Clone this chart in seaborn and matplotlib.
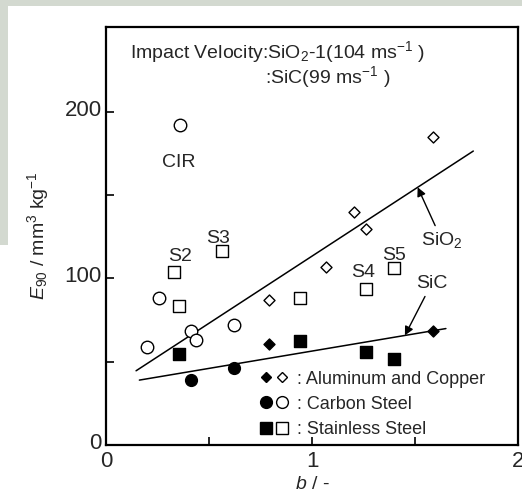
import numpy as np
import pandas as pd
import matplotlib
matplotlib.use("Agg")
import matplotlib.pyplot as plt
import matplotlib.transforms as mtransforms
from matplotlib.patches import Rectangle
from matplotlib.legend_handler import HandlerTuple
from matplotlib.lines import Line2D
import seaborn as sns

# ---- data -------------------------------------------------------------
# Aluminum and Copper
alcu_sio2_b = [0.793, 1.068, 1.205, 1.262, 1.589]
alcu_sio2_e = [87.0, 106.7, 139.8, 129.7, 185.0]
alcu_sic_b = [0.793, 1.589]
alcu_sic_e = [60.5, 68.7]
# Carbon Steel
cs_sio2_b = [0.200, 0.259, 0.359, 0.413, 0.437, 0.623]
cs_sio2_e = [59.0, 88.0, 192.0, 68.5, 63.0, 72.0]
cs_sic_b = [0.413, 0.623]
cs_sic_e = [39.0, 46.0]
# Stainless Steel
ss_sio2_b = [0.330, 0.354, 0.561, 0.942, 1.260, 1.398]
ss_sio2_e = [104.0, 83.5, 116.5, 88.0, 93.5, 106.0]
ss_sic_b = [0.354, 0.942, 1.260, 1.398]
ss_sic_e = [54.5, 62.5, 55.7, 51.6]

# linear trends: intercept, slope, b-range
sio2_fit = (32.8, 80.6, 0.146, 1.783)
sic_fit = (35.6, 20.8, 0.162, 1.650)

# point labels
point_labels = ["CIR", "S2", "S3", "S4", "S5"]
point_label_b = [0.354, 0.360, 0.545, 1.246, 1.398]
point_label_e = [169.5, 113.0, 124.0, 103.5, 113.5]

legend_labels = [": Aluminum and Copper", ": Carbon Steel", ": Stainless Steel"]

# ---- style ------------------------------------------------------------
sns.set_theme(style="white")
plt.rcParams["font.family"] = ["Liberation Sans", "DejaVu Sans"]
plt.rcParams["mathtext.fontset"] = "custom"
plt.rcParams["mathtext.rm"] = "Liberation Sans"
plt.rcParams["mathtext.it"] = "Liberation Sans:italic"
plt.rcParams["mathtext.sf"] = "Liberation Sans"

fig = plt.figure(figsize=(5.22, 4.93), dpi=100)
fig.patch.set_facecolor("white")
# paper-edge tint at the top and left border
fig.add_artist(Rectangle((0, 1 - 6 / 493), 1, 6 / 493, transform=fig.transFigure,
                         facecolor="#d3d9d0", edgecolor="none", zorder=0))
fig.add_artist(Rectangle((0, 1 - 245 / 493), 8 / 522, 245 / 493, transform=fig.transFigure,
                         facecolor="#d3d9d0", edgecolor="none", zorder=0))

ax = fig.add_axes([106 / 522, 48 / 493, 412 / 522, 418 / 493])
ax.set_facecolor("white")

groups = [
    (alcu_sio2_b, alcu_sio2_e, "D", 5.6, False),
    (alcu_sic_b, alcu_sic_e, "D", 5.6, True),
    (cs_sio2_b, cs_sio2_e, "o", 9.0, False),
    (cs_sic_b, cs_sic_e, "o", 8.5, True),
    (ss_sio2_b, ss_sio2_e, "s", 8.5, False),
    (ss_sic_b, ss_sic_e, "s", 8.0, True),
]
for bx, ey, mk, ms, filled in groups:
    df = pd.DataFrame({"b": bx, "E": ey})
    sns.scatterplot(data=df, x="b", y="E", ax=ax, marker=mk, s=ms ** 2,
                    facecolor="black" if filled else "white",
                    edgecolor="black", linewidth=1.0, zorder=3, legend=False)

for a0, a1, b0, b1 in (sio2_fit, sic_fit):
    bb = np.array([b0, b1])
    sns.lineplot(x=bb, y=a0 + a1 * bb, ax=ax, color="black", lw=1.1, zorder=2)

for t, bx, ey in zip(point_labels, point_label_b, point_label_e):
    ax.text(bx, ey, t, ha="center", va="center", fontsize=14)

arrow = dict(arrowstyle="-|>", color="black", lw=1.0, mutation_scale=13, shrinkA=1, shrinkB=0)
sio2_tip = 1.513
ax.annotate("SiO$_2$", xy=(sio2_tip, sio2_fit[0] + sio2_fit[1] * sio2_tip),
            xytext=(1.63, 123), ha="center", va="center", fontsize=14, arrowprops=arrow)
sic_tip = 1.451
ax.annotate("SiC", xy=(sic_tip, sic_fit[0] + sic_fit[1] * sic_tip),
            xytext=(1.581, 97), ha="center", va="center", fontsize=14, arrowprops=arrow)

ax.text(0.058, 0.941, "Impact Velocity:SiO$_2$-1(104 ms$^{-1}$ )", transform=ax.transAxes,
        ha="left", va="center", fontsize=14)
ax.text(0.385, 0.881, ":SiC(99 ms$^{-1}$ )", transform=ax.transAxes,
        ha="left", va="center", fontsize=14)

# material key: filled = SiC, open = SiO2
def mk(m, ms, filled):
    return Line2D([], [], marker=m, ms=ms, ls="none", mec="black", mew=1.0,
                  mfc="black" if filled else "white")

handles = [(mk("D", 5.6, True), mk("D", 5.6, False)),
           (mk("o", 8.5, True), mk("o", 8.5, False)),
           (mk("s", 8.0, True), mk("s", 8.0, False))]
ax.legend(handles, legend_labels, handler_map={tuple: HandlerTuple(ndivide=None, pad=0.1)},
          loc="upper left", bbox_to_anchor=(0.37, 0.178), frameon=False, fontsize=13,
          handlelength=1.7, handletextpad=0.45, labelspacing=0.45, borderpad=0, borderaxespad=0)

ax.set_xlim(0, 2)
ax.set_ylim(0, 251)
ax.set_xticks([0, 1, 2])
ax.set_xticks([0.5, 1.5], minor=True)
ax.set_yticks([0, 100, 200])
ax.set_yticks([50, 150], minor=True)
ax.tick_params(which="both", direction="in", length=6, width=1.2, labelsize=16, color="black",
               bottom=True, left=True, top=False, right=False)
ax.tick_params(axis="x", pad=4)
ax.tick_params(axis="y", pad=3)
# y tick labels sit a little above their ticks
lift = mtransforms.ScaledTranslation(0, 4 / 100, fig.dpi_scale_trans)
for lab in ax.get_yticklabels():
    lab.set_transform(lab.get_transform() + lift)
for s in ax.spines.values():
    s.set_linewidth(1.6)
    s.set_color("black")

ax.set_xlabel("$b$ / -", fontsize=14, va="center")
ax.xaxis.set_label_coords(0.5, -0.094)
ax.set_ylabel("$E_{90}$ / mm$^3$ kg$^{-1}$", fontsize=14, labelpad=10)

fig.savefig("out.png", dpi=100, facecolor=fig.get_facecolor())
